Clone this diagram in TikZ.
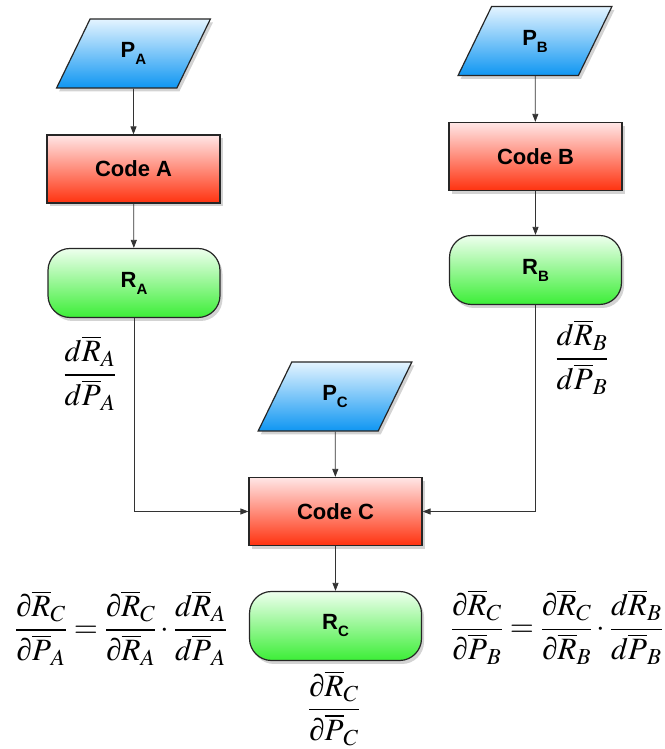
\documentclass[tikz,border=0pt]{standalone}
\usepackage{amsmath}
\usepackage{mathptmx}
\usepackage{fontspec}
\newfontfamily\lab{Liberation Sans}
\newfontfamily\tim{Liberation Serif}
\usetikzlibrary{shapes.geometric,shadows,arrows.meta,calc}
\definecolor{blueT}{RGB}{228,244,255}
\definecolor{blueB}{RGB}{15,150,242}
\definecolor{redT}{RGB}{255,230,230}
\definecolor{redB}{RGB}{255,50,15}
\definecolor{greenT}{RGB}{238,255,238}
\definecolor{greenB}{RGB}{60,238,55}
\newcommand\lsub[2]{#1\raisebox{-7pt}{\fontsize{15}{16}\selectfont #2}}
\newcommand\pd{\mathord{\text{\tim\itshape ∂}}}
\tikzset{
  base/.style={draw=black!85, line width=1.2pt, align=center,
    font=\lab\bfseries\fontsize{22}{25}\selectfont,
    drop shadow={opacity=0.35,shadow xshift=2.5pt,shadow yshift=-3.5pt}},
  inp/.style={base, trapezium, trapezium left angle=66, trapezium right angle=114,
    trapezium stretches=true, minimum width=154pt, minimum height=69pt, inner sep=0pt,
    top color=blueT, bottom color=blueB},
  codebox/.style={base, rectangle, minimum width=173pt, minimum height=68pt,
    top color=redT, bottom color=redB},
  resbox/.style={base, rectangle, rounded corners=22pt, minimum width=172pt, minimum height=69pt,
    top color=greenT, bottom color=greenB},
  conn/.style={draw=black!80, line width=0.8pt, -{Triangle[length=8pt,width=6pt]}},
  eq/.style={font=\fontsize{31}{35}\selectfont, inner sep=0pt},
}
\begin{document}
\begin{tikzpicture}[x=1pt,y=1pt]
\useasboundingbox (0,0) rectangle (664,749);
\node[inp] (pa) at (133.5,695.5) {\lsub{P}{A}};
\node[codebox] (ca) at (133.5,580) {Code A};
\node[resbox] (ra) at (134,466) {\lsub{R}{A}};
\node[inp] (pb) at (535,708) {\lsub{P}{B}};
\node[codebox] (cb) at (535.5,592.5) {Code B};
\node[resbox] (rb) at (535.5,479) {\lsub{R}{B}};
\node[inp] (pc) at (335,352.5) {\lsub{P}{C}};
\node[codebox] (cc) at (335.5,237.5) {Code C};
\node[resbox] (rc) at (335.5,123) {\lsub{R}{C}};

\draw[conn] (pa) -- (ca);
\draw[conn] (ca) -- (ra);
\draw[conn] (pb) -- (cb);
\draw[conn] (cb) -- (rb);
\draw[conn] (pc) -- (cc);
\draw[conn] (cc) -- (rc);
\draw[conn] (ra.south) |- (cc.west);
\draw[conn] (rb.south) |- (cc.east);

\node[eq] (fa) at (90,376) {$\dfrac{d\overline{R}_A}{d\overline{P}_A}$};
\node[eq] (fb) at (582,392) {$\dfrac{d\overline{R}_B}{d\overline{P}_B}$};
\node[eq] (fc) at (334,41) {$\dfrac{\pd\overline{R}_C}{\pd\overline{P}_C}$};
\node[eq] (ea) at (121,121) {$\dfrac{\pd\overline{R}_C}{\pd\overline{P}_A}=\dfrac{\pd\overline{R}_C}{\pd\overline{R}_A}\cdot\dfrac{d\overline{R}_A}{d\overline{P}_A}$};
\node[eq] (eb) at (557,122) {$\dfrac{\pd\overline{R}_C}{\pd\overline{P}_B}=\dfrac{\pd\overline{R}_C}{\pd\overline{R}_B}\cdot\dfrac{d\overline{R}_B}{d\overline{P}_B}$};
\end{tikzpicture}
\end{document}
